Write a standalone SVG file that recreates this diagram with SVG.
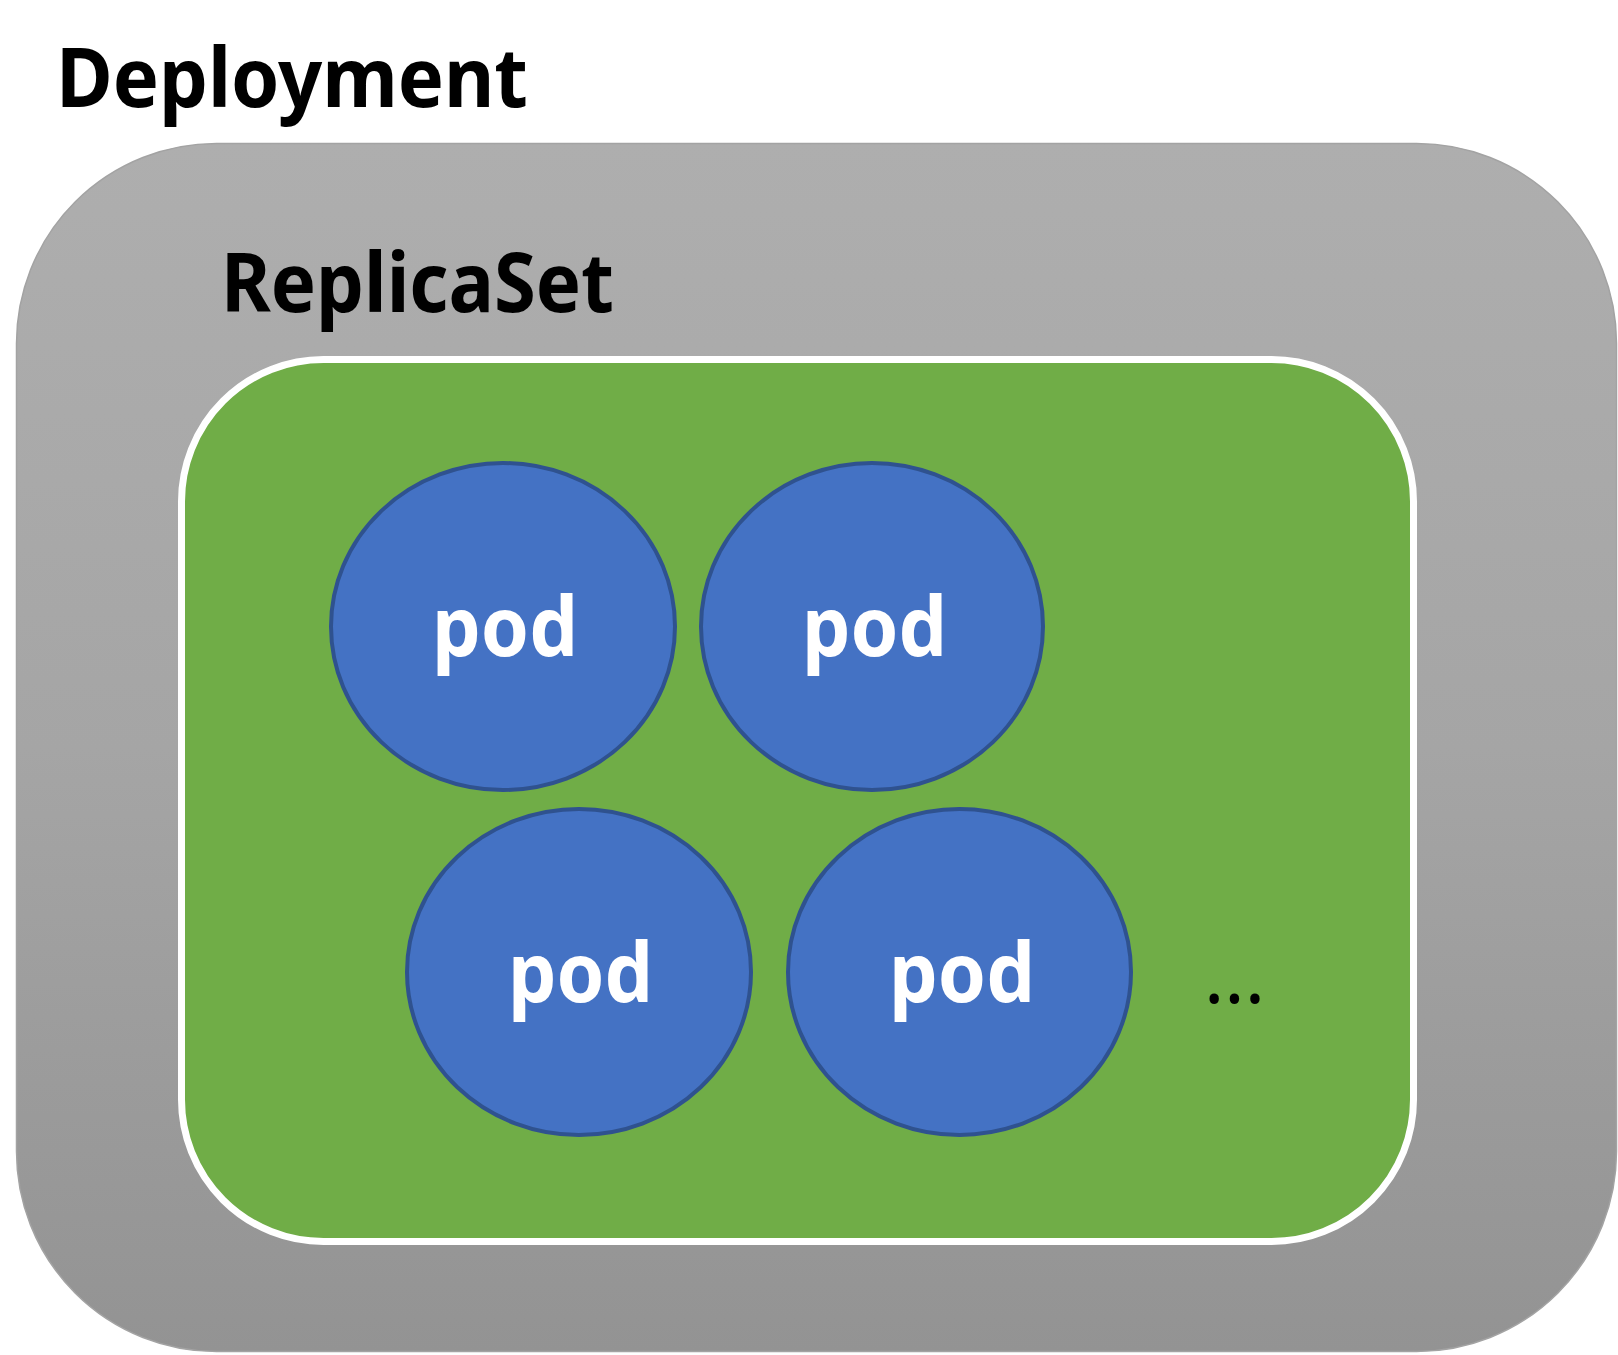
<svg xmlns="http://www.w3.org/2000/svg" width="1618" height="1355" viewBox="0 0 1618 1355">
  <defs>
    <linearGradient id="grayGrad" x1="0" y1="0" x2="0" y2="1">
      <stop offset="0" stop-color="#AEAEAE"/>
      <stop offset="0.5" stop-color="#A5A5A5"/>
      <stop offset="1" stop-color="#939393"/>
    </linearGradient>
    <style>
      .title { font-family: "Noto Sans", "Open Sans", "Liberation Sans", sans-serif; font-weight: bold; fill: #000000; }
      .pod-shape { fill: #4472C4; stroke: #2F528F; stroke-width: 4; }
      .pod-label { font-family: "Noto Sans", "Open Sans", "Liberation Sans", sans-serif; font-weight: bold; font-size: 82px; fill: #FFFFFF; }
      .dots { font-family: "Noto Sans", "Liberation Sans", sans-serif; font-size: 76px; fill: #000000; }
    </style>
  </defs>
  <rect width="1618" height="1355" fill="#FFFFFF"/>
  <g id="deployment">
    <rect x="16.5" y="143.5" width="1600" height="1208" rx="200" ry="200" fill="url(#grayGrad)" stroke="#A3A3A3" stroke-width="1.5"/>
    <text class="title" x="56" y="107" font-size="82" textLength="472" lengthAdjust="spacingAndGlyphs">Deployment</text>
  </g>
  <g id="replicaset">
    <rect x="181.5" y="359.5" width="1232" height="882" rx="142" ry="142" fill="#70AD47" stroke="#FFFFFF" stroke-width="7"/>
    <text class="title" x="221" y="312" font-size="82" textLength="393" lengthAdjust="spacingAndGlyphs">ReplicaSet</text>
  </g>
  <g id="pod1">
    <ellipse class="pod-shape" cx="503" cy="626.5" rx="172" ry="163.5"/>
    <text class="pod-label" x="432" y="656" textLength="146" lengthAdjust="spacingAndGlyphs">pod</text>
  </g>
  <g id="pod2">
    <ellipse class="pod-shape" cx="872" cy="626.5" rx="171" ry="163.5"/>
    <text class="pod-label" x="802" y="656" textLength="145" lengthAdjust="spacingAndGlyphs">pod</text>
  </g>
  <g id="pod3">
    <ellipse class="pod-shape" cx="579" cy="972" rx="172" ry="163"/>
    <text class="pod-label" x="508" y="1002" textLength="145" lengthAdjust="spacingAndGlyphs">pod</text>
  </g>
  <g id="pod4">
    <ellipse class="pod-shape" cx="959.5" cy="972" rx="171.5" ry="163"/>
    <text class="pod-label" x="889" y="1002" textLength="146" lengthAdjust="spacingAndGlyphs">pod</text>
  </g>
  <g id="more">
    <text class="dots" x="1204" y="1003">...</text>
  </g>
  <g id="connectors"></g>
</svg>
